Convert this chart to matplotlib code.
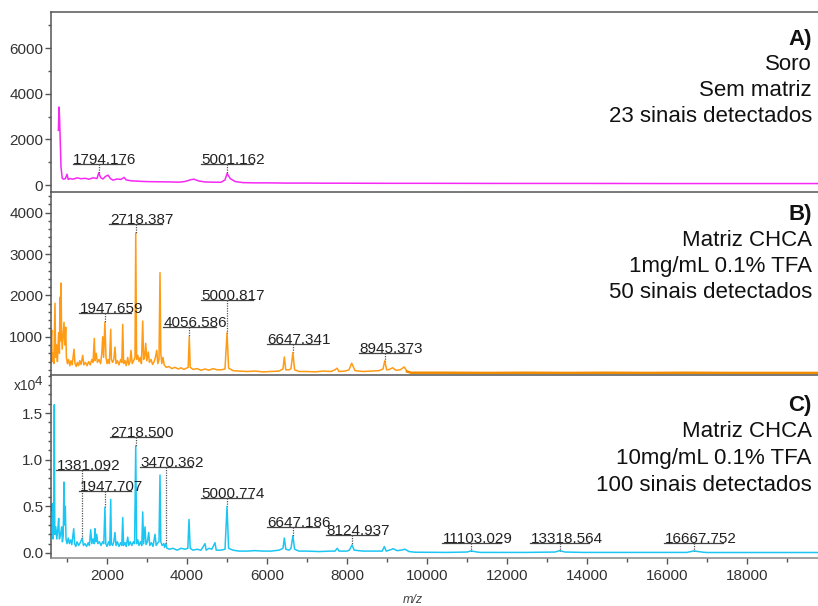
import numpy as np
import matplotlib.pyplot as plt
from matplotlib.ticker import MultipleLocator

plt.rcParams['font.family'] = ['Liberation Sans', 'DejaVu Sans']

# Espectro A - soro sem matriz (m/z, intensidade)
mz_a = [785, 800, 815, 830, 850, 880, 920, 960, 1000, 1030, 1080, 1150, 1250,
        1350, 1450, 1550, 1650, 1750, 1794.176, 1840, 1900, 1960, 2025, 2090,
        2150, 2250, 2350, 2425, 2480, 2600, 2800, 3000, 3200, 3400, 3600, 3800,
        3950, 4100, 4175, 4300, 4450, 4650, 4850, 4950, 5001.162, 5080, 5200,
        5400, 5700, 6000, 6500, 7000, 7500, 8000, 9000, 10000, 12000, 14000,
        16000, 18000, 19775]
int_a = [2400, 3420, 2900, 2000, 800, 300, 260, 290, 480, 250, 290, 260, 320,
         280, 300, 260, 320, 290, 540, 330, 270, 380, 440, 280,
         220, 270, 250, 340, 230, 190, 170, 155, 150, 145, 140, 130,
         160, 240, 260, 180, 140, 130, 125, 230, 510, 290, 160,
         110, 100, 100, 90, 90, 85, 85, 80, 80, 75, 75,
         70, 70, 70]
labels_a = [1794.176, 5001.162]
label_y_a = [920, 920]

# Espectro B - CHCA 1 mg/mL
mz_b = [600, 618, 630, 650, 670, 700, 715, 740, 760, 790, 810, 825, 838, 850,
        865, 880, 900, 925, 945, 968, 985, 1010, 1040, 1070, 1100, 1130, 1175,
        1200, 1230, 1260, 1290, 1320, 1350, 1393, 1420, 1460, 1500, 1540, 1580,
        1620, 1650, 1683, 1700, 1730, 1760, 1800, 1840, 1870, 1893, 1915,
        1947.659, 1975, 2000, 2030, 2060, 2093, 2110, 2140, 2170, 2200, 2225,
        2260, 2300, 2340, 2370, 2393, 2415, 2450, 2480, 2518, 2545, 2575, 2600,
        2630, 2665, 2700, 2718.387, 2740, 2770, 2800, 2835, 2860, 2893, 2915,
        2940, 2968, 2995, 3033, 3060, 3100, 3140, 3180, 3210, 3243, 3270, 3300,
        3325, 3345, 3370, 3400, 3430, 3480, 3550, 3620, 3700, 3780, 3850, 3920,
        3990, 4030, 4056.586, 4080, 4150, 4250, 4350, 4450, 4550, 4650, 4750,
        4850, 4950, 5000.817, 5040, 5150, 5300, 5500, 5700, 5900, 6100, 6300,
        6400, 6433, 6470, 6550, 6600, 6647.341, 6690, 6800, 7000, 7200, 7400,
        7600, 7700, 7750, 7800, 7950, 8050, 8117, 8200, 8400, 8600, 8800, 8900,
        8945.373, 8990, 9060, 9140, 9220, 9330, 9430, 9500]
int_b = [900, 1160, 400, 600, 350, 1810, 500, 800, 400, 1100, 600, 1960, 900, 2300,
         1100, 700, 1000, 1350, 800, 1230, 500, 350, 450, 300, 420, 320, 700,
         350, 280, 380, 300, 420, 330, 550, 320, 380, 300, 400, 320,
         450, 380, 960, 420, 600, 380, 450, 350, 600, 1000, 500,
         1350, 500, 350, 450, 350, 1180, 450, 380, 450, 750, 350,
         420, 320, 450, 380, 1300, 350, 420, 300, 500, 320, 400, 670,
         350, 420, 500, 3510, 450, 550, 400, 500, 350, 1380, 450,
         500, 840, 420, 630, 380, 450, 330, 400, 500, 670, 350, 450,
         2550, 600, 350, 500, 320, 260, 280, 230, 260, 220, 250, 210,
         240, 260, 1000, 260, 210, 230, 190, 220, 190, 230, 200,
         200, 220, 1100, 240, 180, 170, 160, 170, 150, 160, 170,
         220, 510, 200, 200, 230, 620, 200, 160, 160, 150, 170,
         160, 200, 240, 160, 170, 200, 360, 180, 160, 170, 180, 220,
         420, 200, 210, 250, 190, 200, 270, 160]
# trecho final (ruido mais denso, traco mais escuro)
mz_b_fim = [9500, 9600, 10500, 11500, 12500, 13500, 14500, 15500, 16500,
            17500, 18500, 19775]
int_b_fim = [160, 130, 130, 125, 130, 125, 130, 125, 130, 125, 125, 125]
labels_b = [1947.659, 2718.387, 4056.586, 5000.817, 6647.341, 8945.373]
label_y_b = [1580, 3730, 1230, 1900, 820, 610]

# Espectro C - CHCA 10 mg/mL (x10^4)
mz_c = [600, 633, 650, 670, 683, 695, 720, 745, 770, 792, 810, 840, 867, 885,
        905, 925, 940, 958, 975, 1000, 1030, 1060, 1090, 1120, 1168, 1190, 1220,
        1250, 1290, 1330, 1381.092, 1410, 1450, 1490, 1530, 1560, 1593, 1620,
        1650, 1680, 1700, 1720, 1743, 1770, 1810, 1850, 1890, 1920, 1947.707,
        1970, 2000, 2040, 2070, 2093, 2110, 2140, 2170, 2200, 2225, 2260, 2300,
        2340, 2370, 2393, 2415, 2450, 2480, 2518, 2545, 2580, 2620, 2660, 2690,
        2718.500, 2740, 2770, 2800, 2840, 2870, 2893, 2915, 2950, 2975, 3010,
        3043, 3070, 3110, 3150, 3200, 3230, 3270, 3300, 3325, 3345, 3380, 3420,
        3440, 3470.362, 3500, 3560, 3650, 3750, 3850, 3950, 4020, 4050, 4080,
        4150, 4250, 4350, 4450, 4480, 4550, 4620, 4700, 4730, 4850, 4950,
        5000.774, 5040, 5150, 5300, 5500, 5700, 5900, 6100, 6300, 6400, 6433,
        6470, 6550, 6600, 6647.186, 6690, 6800, 7000, 7300, 7600, 7700, 7758,
        7800, 8000, 8060, 8124.937, 8180, 8400, 8700, 8880, 8933, 8980, 9060,
        9158, 9250, 9350, 9450, 9550, 9700, 10500, 11000, 11103.029, 11250,
        11350, 12500, 13200, 13318.564, 13450, 13900, 16500, 16667.752, 16900,
        17000, 19775]
int_c = [0.45, 0.53, 0.15, 0.30, 1.59, 0.20, 0.28, 0.15, 0.25, 0.37, 0.15, 0.20, 0.28, 0.12,
         0.18, 0.76, 0.30, 0.50, 0.15, 0.10, 0.16, 0.10, 0.14, 0.09, 0.26, 0.10, 0.07,
         0.12, 0.08, 0.11, 0.16, 0.08, 0.10, 0.07, 0.11, 0.08, 0.25, 0.10,
         0.15, 0.10, 0.26, 0.12, 0.20, 0.10, 0.12, 0.08, 0.12, 0.10, 0.49,
         0.10, 0.07, 0.12, 0.08, 0.575, 0.10, 0.08, 0.12, 0.22, 0.08, 0.12, 0.07,
         0.11, 0.08, 0.38, 0.08, 0.11, 0.07, 0.17, 0.08, 0.12, 0.08, 0.12, 0.10,
         1.15, 0.10, 0.14, 0.08, 0.12, 0.08, 0.44, 0.10, 0.28, 0.09, 0.12,
         0.22, 0.08, 0.11, 0.07, 0.20, 0.08, 0.11, 0.12, 0.835, 0.12, 0.08, 0.10,
         0.06, 0.10, 0.05, 0.04, 0.05, 0.03, 0.05, 0.04, 0.05, 0.36, 0.05,
         0.03, 0.04, 0.03, 0.10, 0.03, 0.05, 0.04, 0.11, 0.03, 0.03, 0.04,
         0.50, 0.05, 0.03, 0.02, 0.02, 0.025, 0.02, 0.02, 0.03, 0.05, 0.16,
         0.04, 0.03, 0.05, 0.185, 0.04, 0.02, 0.02, 0.015, 0.02, 0.02, 0.05,
         0.02, 0.02, 0.03, 0.086, 0.03, 0.02, 0.02, 0.02, 0.068, 0.02, 0.03,
         0.045, 0.025, 0.03, 0.04, 0.015, 0.008, 0.006, 0.01, 0.022, 0.01,
         0.006, 0.006, 0.01, 0.025, 0.01, 0.006, 0.006, 0.022, 0.008,
         0.005, 0.005]
labels_c = [1381.092, 1947.707, 2718.500, 3470.362, 5000.774, 6647.186,
            8124.937, 11103.029, 13318.564, 16667.752]
label_y_c = [0.89, 0.668, 1.246, 0.925, 0.586, 0.275, 0.19, 0.11, 0.11, 0.105]

textos = [['A)', 'Soro', 'Sem matriz', '23 sinais detectados'],
          ['B)', 'Matriz CHCA', '1mg/mL 0.1% TFA', '50 sinais detectados'],
          ['C)', 'Matriz CHCA', '10mg/mL 0.1% TFA', '100 sinais detectados']]

W, H = 818, 606
fig = plt.figure(figsize=(W / 100, H / 100), dpi=100)


def painel(top, bottom):
    return fig.add_axes([51 / W, 1 - bottom / H, 767 / W, (bottom - top) / H])


def rotulo(ax, mz, inten, pos, y_lin):
    # linha horizontal + texto + pontilhado ate o topo do pico
    mz = np.array(mz)
    inten = np.array(inten)
    for p, yl in zip(pos, y_lin):
        txt = f'{p:.3f}'
        meia = len(txt) * 82
        topo = inten[np.argmin(np.abs(mz - p))]
        ax.plot([p - meia, p + meia], [yl, yl], color='#444444', lw=0.9)
        ax.text(p - meia + 20, yl, txt, fontsize=11, color='#222222',
                ha='left', va='baseline')
        ax.plot([p, p], [yl, topo], color='#555555', lw=0.9, ls=(0, (1, 1)))


axes = [painel(12, 192), painel(192, 375), painel(375, 558)]
cores = ['#f628f6', '#ff9b14', '#1cc6f4']
dados = [(mz_a, int_a, labels_a, label_y_a),
         (mz_b, int_b, labels_b, label_y_b),
         (mz_c, int_c, labels_c, label_y_c)]
ylims = [(-300, 7580), (75, 4500), (-0.054, 1.908)]
topo_txt = [27, 22, 30]
passo_txt = [25.7, 26.3, 26.7]
alturas = [180, 183, 183]

for i, ax in enumerate(axes):
    mz, inten, pos, y_lin = dados[i]
    ax.plot(mz, inten, color=cores[i], lw=1.1)
    rotulo(ax, mz, inten, pos, y_lin)
    ax.set_xlim(600, 19775)
    ax.set_ylim(*ylims[i])
    ax.spines['right'].set_visible(False)
    for lado in ['left', 'top', 'bottom']:
        ax.spines[lado].set_color('#555555')
        ax.spines[lado].set_linewidth(1.1)
    ax.tick_params(axis='y', which='major', length=4, width=1, color='#555555',
                   labelsize=11, labelcolor='#333333', pad=1.5)
    ax.tick_params(axis='y', which='minor', length=2.5, width=1, color='#555555')
    ax.xaxis.set_major_locator(MultipleLocator(2000))
    ax.xaxis.set_minor_locator(MultipleLocator(1000))
    if i < 2:
        ax.tick_params(axis='x', which='both', bottom=False, labelbottom=False)
        ax.spines['bottom'].set_visible(False)
    else:
        ax.spines['bottom'].set_color('#888888')
        ax.tick_params(axis='x', which='major', length=4, width=1, color='#555555',
                       labelsize=11, labelcolor='#333333', pad=4)
        ax.tick_params(axis='x', which='minor', length=3, width=1, color='#555555')

    for j, linha in enumerate(textos[i]):
        y = 1 - (topo_txt[i] + j * passo_txt[i]) / alturas[i]
        ax.text(0.992, y, linha, transform=ax.transAxes, ha='right', va='center',
                fontsize=16, color='#111111',
                fontweight='bold' if j == 0 else 'normal')

# cauda do espectro B, mais espessa
axes[1].plot(mz_b_fim, int_b_fim, color='#f08c00', lw=1.8)

axes[0].yaxis.set_major_locator(MultipleLocator(2000))
axes[0].yaxis.set_minor_locator(MultipleLocator(1000))
axes[1].yaxis.set_major_locator(MultipleLocator(1000))
axes[1].yaxis.set_minor_locator(MultipleLocator(200))
axes[2].yaxis.set_major_locator(MultipleLocator(0.5))
axes[2].yaxis.set_minor_locator(MultipleLocator(0.1))
axes[2].yaxis.set_major_formatter(lambda v, p: f'{v:.1f}')

fig.text(14 / W, 1 - 386 / H, 'x10', fontsize=10, color='#333333', va='center')
fig.text(35 / W, 1 - 382 / H, '4', fontsize=9.5, color='#333333', va='center')
fig.text(413 / W, 1 - 600 / H, 'm/z', fontsize=9, style='italic',
         color='#444444', ha='center', va='center')

fig.savefig('out.png', dpi=100)
